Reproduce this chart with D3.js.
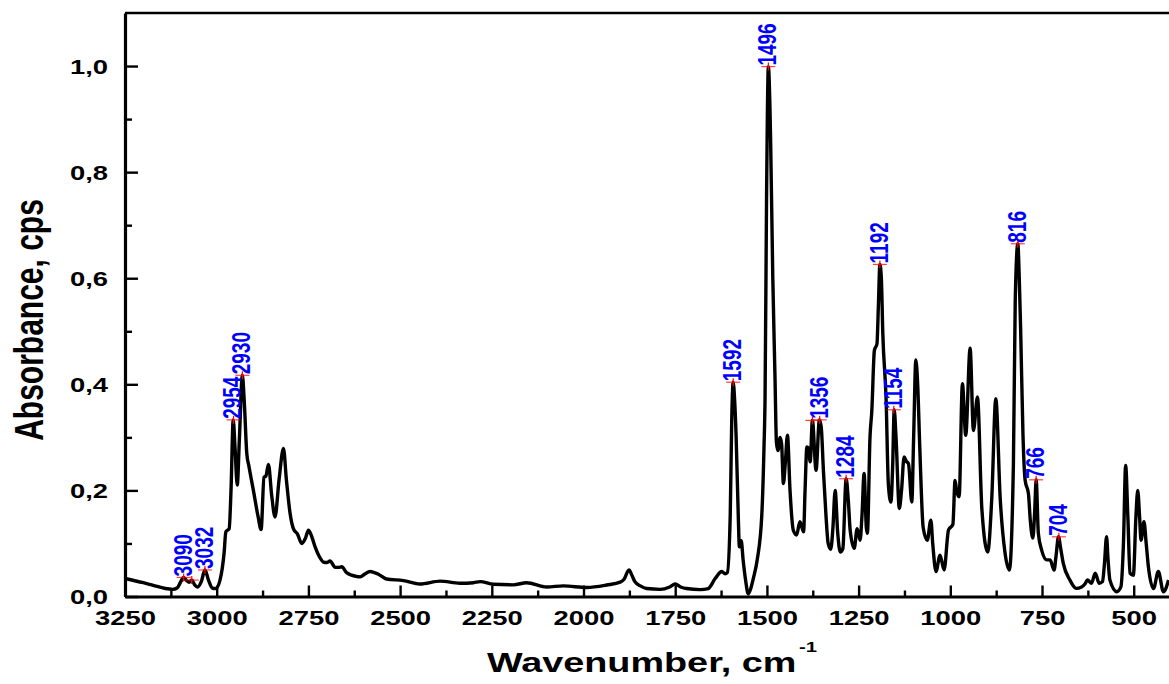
<!DOCTYPE html>
<html>
<head>
<meta charset="utf-8">
<script src="https://cdn.jsdelivr.net/npm/d3@7"></script>
<style>
  body { margin: 0; background: #fff; }
</style>
</head>
<body>
<svg id="chart" width="1169" height="684"></svg>
<script>
// Spectrum (wavenumber in cm-1, absorbance)
const wavenumber = [
  3250, 3200, 3173, 3140, 3120, 3108, 3098, 3091, 3082, 3075, 3068, 3060, 3052, 3042, 3032, 3022, 3012, 3003,
  2991, 2980, 2975, 2966, 2961, 2955, 2950, 2944, 2938, 2930, 2925, 2918, 2912, 2900, 2887, 2879, 2871, 2866,
  2859, 2850, 2841, 2830, 2818, 2810, 2800, 2791, 2780, 2768, 2758, 2750, 2742, 2732, 2720, 2709, 2700, 2691,
  2677, 2668, 2659, 2646, 2620, 2609, 2595, 2582, 2570, 2559, 2537, 2491, 2446, 2391, 2337, 2300, 2282, 2246,
  2191, 2155, 2100, 2055, 1991, 1937, 1900, 1890, 1876, 1868, 1860, 1845, 1828, 1791, 1765, 1750, 1735, 1719,
  1682, 1660, 1641, 1623, 1614, 1608, 1600, 1596, 1592, 1588, 1584, 1578, 1575, 1570, 1565, 1558, 1551, 1544,
  1537, 1526, 1514, 1508, 1505, 1501, 1496, 1492, 1490, 1484, 1478, 1474, 1470, 1464, 1460, 1455, 1450, 1444,
  1437, 1428, 1419, 1410, 1400, 1396, 1391, 1387, 1382, 1376, 1366, 1357, 1352, 1346, 1339, 1333, 1326, 1320,
  1314, 1307, 1300, 1293, 1284, 1278, 1273, 1262, 1254, 1246, 1241, 1235, 1229, 1226, 1219, 1214, 1207, 1200,
  1196, 1192, 1188, 1184, 1175, 1169, 1162, 1157, 1153, 1148, 1139, 1133, 1126, 1120, 1114, 1105, 1100, 1094,
  1089, 1083, 1074, 1063, 1053, 1048, 1039, 1028, 1017, 1005, 993, 987, 983, 976, 967, 958, 946, 937,
  926, 914, 898, 887, 876, 864, 851, 839, 828, 823, 816, 812, 808, 802, 796, 787, 782, 775,
  770, 766, 760, 751, 737, 728, 717, 712, 705, 699, 692, 674, 657, 642, 633, 626, 615, 605,
  594, 585, 580, 574, 570, 565, 546, 535, 528, 522, 516, 510, 501, 494, 489, 484, 480, 472,
  466, 460, 446, 433, 419, 405
];
const absorbance = [
  0.034, 0.026, 0.021, 0.015, 0.0135, 0.016, 0.028, 0.036, 0.030, 0.027, 0.031, 0.022, 0.018, 0.028, 0.050, 0.030, 0.016, 0.015,
  0.031, 0.081, 0.122, 0.128, 0.200, 0.333, 0.280, 0.210, 0.300, 0.417, 0.370, 0.270, 0.245, 0.200, 0.150, 0.126, 0.225, 0.227,
  0.249, 0.190, 0.150, 0.220, 0.279, 0.220, 0.157, 0.128, 0.118, 0.100, 0.110, 0.125, 0.115, 0.094, 0.075, 0.065, 0.064, 0.067,
  0.055, 0.055, 0.056, 0.045, 0.038, 0.037, 0.043, 0.047, 0.045, 0.042, 0.033, 0.030, 0.0235, 0.029, 0.025, 0.026, 0.028, 0.023,
  0.022, 0.026, 0.018, 0.020, 0.017, 0.0216, 0.027, 0.032, 0.050, 0.040, 0.028, 0.020, 0.015, 0.0135, 0.018, 0.0235, 0.018, 0.015,
  0.013, 0.015, 0.034, 0.047, 0.043, 0.045, 0.153, 0.330, 0.404, 0.370, 0.303, 0.150, 0.0935, 0.105, 0.070, 0.030, 0.005, 0.015,
  0.034, 0.071, 0.153, 0.280, 0.378, 0.750, 0.999, 0.930, 0.864, 0.602, 0.415, 0.290, 0.275, 0.300, 0.288, 0.213, 0.250, 0.304,
  0.200, 0.125, 0.116, 0.141, 0.122, 0.200, 0.282, 0.280, 0.254, 0.332, 0.238, 0.333, 0.320, 0.238, 0.153, 0.100, 0.089, 0.130,
  0.200, 0.120, 0.084, 0.090, 0.222, 0.180, 0.125, 0.091, 0.128, 0.106, 0.150, 0.232, 0.130, 0.119, 0.300, 0.350, 0.464, 0.476,
  0.550, 0.626, 0.600, 0.495, 0.370, 0.213, 0.178, 0.250, 0.352, 0.300, 0.166, 0.200, 0.263, 0.255, 0.250, 0.178, 0.300, 0.446,
  0.400, 0.276, 0.130, 0.106, 0.144, 0.100, 0.047, 0.078, 0.050, 0.125, 0.136, 0.219, 0.200, 0.188, 0.401, 0.304, 0.468, 0.313,
  0.376, 0.165, 0.084, 0.185, 0.373, 0.185, 0.083, 0.050, 0.250, 0.558, 0.665, 0.600, 0.495, 0.307, 0.219, 0.194, 0.144, 0.110,
  0.160, 0.220, 0.119, 0.0875, 0.069, 0.069, 0.050, 0.075, 0.1125, 0.090, 0.0625, 0.031, 0.0154, 0.018, 0.0235, 0.031, 0.025, 0.044,
  0.025, 0.028, 0.060, 0.1125, 0.070, 0.031, 0.009, 0.018, 0.100, 0.247, 0.150, 0.044, 0.040, 0.150, 0.200, 0.150, 0.106, 0.141,
  0.100, 0.056, 0.015, 0.047, 0.009, 0.031
];

// Labelled peaks
const peakWavenumbers = [3090, 3032, 2954, 2930, 1592, 1496, 1356, 1284, 1192, 1154, 816, 766, 704];
const peakAbsorbance = [0.036, 0.050, 0.333, 0.417, 0.404, 0.999, 0.333, 0.222, 0.626, 0.352, 0.665, 0.220, 0.1125];
// Peak marks without a visible label
const extraMarkWavenumbers = [3068, 1376];
const extraMarkAbsorbance = [0.031, 0.332];

// Ticks
const xMajorTicks = [3250, 3000, 2750, 2500, 2250, 2000, 1750, 1500, 1250, 1000, 750, 500];
const xMinorTicks = [3125, 2875, 2625, 2375, 2125, 1875, 1625, 1375, 1125, 875, 625];
const yMajorTicks = [0, 0.2, 0.4, 0.6, 0.8, 1.0];
const yMinorTicks = [0.1, 0.3, 0.5, 0.7, 0.9];

const font = "'Liberation Sans', Arial, sans-serif";
const stretch = 1.37; // text in the picture is stretched sideways

const svg = d3.select("#chart");
svg.append("rect").attr("width", 1169).attr("height", 684).attr("fill", "#fff");

const x = d3.scaleLinear().domain([3250, 400]).range([125, 1170.4]);
const y = d3.scaleLinear().domain([0, 1.1]).range([596.5, 13]);

// Top frame line
svg.append("line")
    .attr("x1", 125).attr("x2", 1169)
    .attr("y1", y(1.1)).attr("y2", y(1.1))
    .attr("stroke", "#000").attr("stroke-width", 2.6);

// Spectrum
const spectrum = wavenumber.map((w, i) => ({ w: w, a: absorbance[i] }));
svg.append("path")
    .datum(spectrum)
    .attr("fill", "none")
    .attr("stroke", "#000")
    .attr("stroke-width", 3.4)
    .attr("stroke-linejoin", "round")
    .attr("d", d3.line()
        .x(d => x(d.w))
        .y(d => y(d.a))
        .curve(d3.curveMonotoneX));

// Bottom axis
const xAxisG = svg.append("g").attr("transform", `translate(0,${y(0)})`);
xAxisG.append("g")
    .call(d3.axisBottom(x).tickValues(xMinorTicks).tickSize(-6).tickSizeOuter(0).tickFormat(""))
    .call(g => g.select(".domain").remove())
    .selectAll("line").attr("stroke-width", 2.4);
xAxisG.append("g")
    .call(d3.axisBottom(x).tickValues(xMajorTicks).tickSize(-11).tickSizeOuter(0).tickFormat(d3.format("d")))
    .call(g => g.select(".domain").attr("stroke-width", 3.2))
    .call(g => g.selectAll("line").attr("stroke-width", 2.4))
    .call(g => g.selectAll("text")
        .attr("y", 28.5).attr("dy", 0)
        .attr("transform", `scale(${stretch},1)`)
        .attr("font-family", font)
        .attr("font-size", 20)
        .attr("font-weight", "bold")
        .attr("fill", "#000"));

// Left axis
const commaFormat = d => d3.format(".1f")(d).replace(".", ",");
const yAxisG = svg.append("g").attr("transform", `translate(${x(3250)},0)`);
yAxisG.append("g")
    .call(d3.axisLeft(y).tickValues(yMinorTicks).tickSize(-7).tickSizeOuter(0).tickFormat(""))
    .call(g => g.select(".domain").remove())
    .selectAll("line").attr("stroke-width", 2.4);
yAxisG.append("g")
    .call(d3.axisLeft(y).tickValues(yMajorTicks).tickSize(-13).tickSizeOuter(0).tickFormat(commaFormat))
    .call(g => g.select(".domain").attr("stroke-width", 3.2))
    .call(g => g.selectAll("line").attr("stroke-width", 2.4))
    .call(g => g.selectAll("text")
        .attr("x", -17 / stretch).attr("dy", "0.36em")
        .attr("transform", `scale(${stretch},1)`)
        .attr("font-family", font)
        .attr("font-size", 20)
        .attr("font-weight", "bold")
        .attr("fill", "#000"));

// Peak marks
const marks = peakWavenumbers.map((w, i) => ({ w: w, a: peakAbsorbance[i] }))
    .concat(extraMarkWavenumbers.map((w, i) => ({ w: w, a: extraMarkAbsorbance[i] })));
const markG = svg.append("g").attr("stroke", "#ff0000").attr("stroke-width", 1.2);
markG.selectAll(".hmark").data(marks).enter().append("line")
    .attr("x1", d => x(d.w) - 7).attr("x2", d => x(d.w) + 7)
    .attr("y1", d => y(d.a)).attr("y2", d => y(d.a))
    .attr("stroke-opacity", 0.75);
markG.selectAll(".vmark").data(marks).enter().append("line")
    .attr("x1", d => x(d.w)).attr("x2", d => x(d.w))
    .attr("y1", d => y(d.a) - 4).attr("y2", d => y(d.a) + 4);

// Peak labels
svg.append("g").selectAll("text")
    .data(peakWavenumbers.map((w, i) => ({ w: w, a: peakAbsorbance[i] })))
    .enter().append("text")
    .attr("transform", d => `translate(${x(d.w) - 1.5},${y(d.a) - 1}) scale(1.4,1) rotate(-90)`)
    .attr("dy", "0.35em")
    .attr("text-anchor", "start")
    .attr("font-family", font)
    .attr("font-size", 19)
    .attr("font-weight", "bold")
    .attr("fill", "#0000ff")
    .text(d => d.w);

// Axis titles
svg.append("text")
    .attr("transform", `translate(43,320) scale(${stretch},1) rotate(-90)`)
    .attr("text-anchor", "middle")
    .attr("font-family", font)
    .attr("font-size", 30)
    .attr("font-weight", "bold")
    .text("Absorbance, cps");

const xTitle = svg.append("text")
    .attr("transform", `translate(652,672) scale(1.35,1)`)
    .attr("text-anchor", "middle")
    .attr("font-family", font)
    .attr("font-size", 28)
    .attr("font-weight", "bold");
xTitle.append("tspan").text("Wavenumber, cm");
xTitle.append("tspan").attr("dy", -20).attr("dx", 2).attr("font-size", 15).text("-1");
</script>
</body>
</html>
